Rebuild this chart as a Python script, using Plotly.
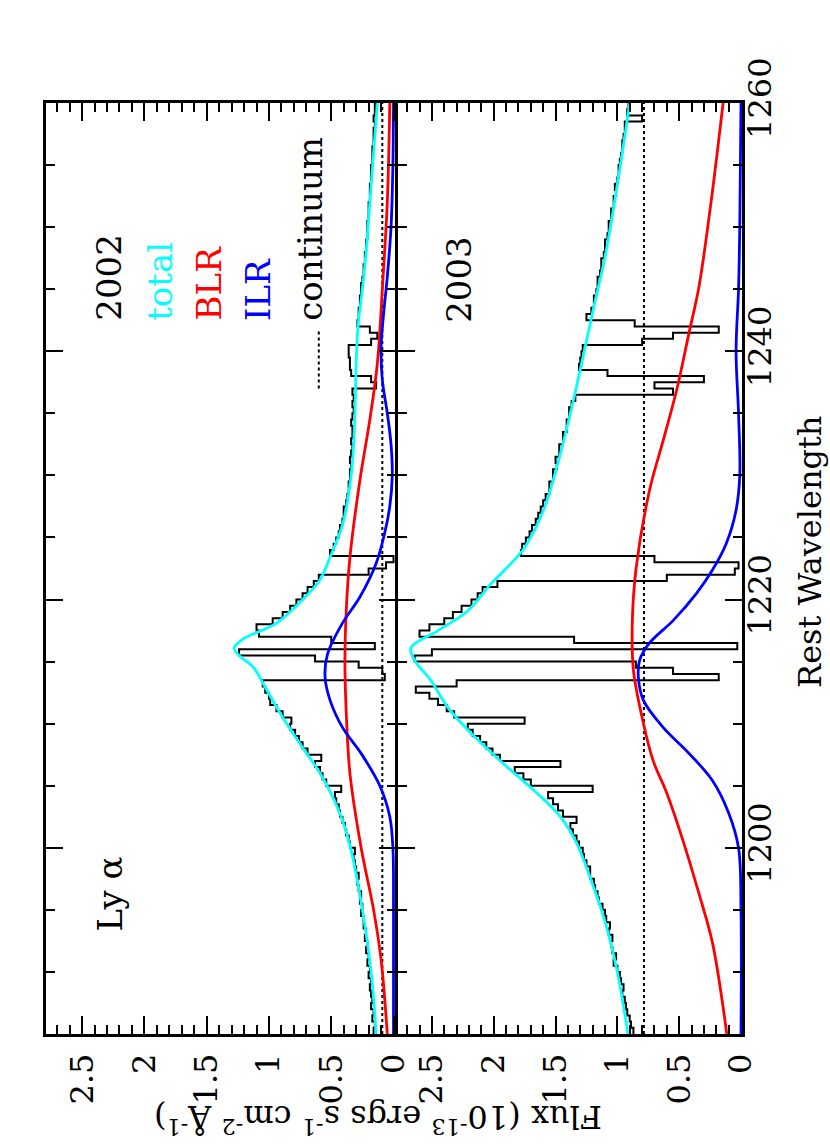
import numpy as np
import plotly.graph_objects as go

# rest wavelength bins (left edges, 0.5 A) for the observed spectra
wl_bins = np.arange(1185.0, 1260.0, 0.5)

# 2002 observed flux (1e-13 ergs/s/cm2/A), one value per bin
flux_2002 = [
    0.16, 0.15, 0.17, 0.16, 0.18, 0.17, 0.18, 0.19, 0.18, 0.20,
    0.19, 0.21, 0.20, 0.22, 0.21, 0.23, 0.22, 0.24, 0.24, 0.26,
    0.25, 0.27, 0.26, 0.28, 0.29, 0.28, 0.30, 0.31, 0.32, 0.31,
    0.35, 0.36, 0.38, 0.39, 0.41, 0.43, 0.44, 0.46, 0.47, 0.42,
    0.54, 0.57, 0.59, 0.63, 0.58, 0.69, 0.73, 0.76, 0.79, 0.83,
    0.82, 0.89, 0.94, 0.99, 1.00, 1.03, 1.05, 0.07, 0.09, 0.28,
    0.63, 1.24, 0.15, 0.50, 1.08, 1.10, 0.97, 0.89, 0.83, 0.78,
    0.73, 0.69, 0.64, 0.60, 0.20, 0.06, 0.00, 0.51, 0.48, 0.46,
    0.44, 0.43, 0.41, 0.40, 0.40, 0.38, 0.37, 0.36, 0.36, 0.35,
    0.35, 0.34, 0.35, 0.34, 0.33, 0.34, 0.33, 0.33, 0.34, 0.33,
    0.32, 0.33, 0.32, 0.33, 0.14, 0.18, 0.34, 0.35, 0.35, 0.36,
    0.36, 0.18, 0.13, 0.19, 0.29, 0.28, 0.28, 0.27, 0.27, 0.26,
    0.26, 0.25, 0.24, 0.24, 0.23, 0.23, 0.22, 0.22, 0.21, 0.21,
    0.21, 0.20, 0.20, 0.20, 0.19, 0.19, 0.19, 0.18, 0.18, 0.18,
    0.17, 0.17, 0.17, 0.16, 0.16, 0.16, 0.15, 0.16, 0.15, 0.15,
]

# 2003 observed flux
flux_2003 = [
    0.87, 0.89, 0.90, 0.92, 0.93, 0.94, 0.96, 0.95, 0.97, 0.98,
    1.00, 1.03, 1.01, 1.04, 1.05, 1.04, 1.07, 1.06, 1.09, 1.10,
    1.12, 1.15, 1.16, 1.18, 1.19, 1.22, 1.22, 1.25, 1.27, 1.28,
    1.31, 1.33, 1.36, 1.38, 1.33, 1.44, 1.48, 1.52, 1.56, 1.20,
    1.70, 1.76, 1.83, 1.46, 1.95, 2.01, 2.06, 2.11, 2.17, 2.21,
    1.75, 2.32, 2.38, 2.45, 2.52, 2.63, 2.30, 0.18, 0.55, 0.85,
    2.64, 2.50, 0.03, 1.35, 2.60, 2.52, 2.40, 2.33, 2.26, 2.18,
    2.13, 2.09, 1.97, 0.60, 0.05, 0.02, 0.70, 1.78, 1.77, 1.74,
    1.71, 1.69, 1.66, 1.64, 1.62, 1.60, 1.58, 1.55, 1.55, 1.52,
    1.52, 1.49, 1.50, 1.47, 1.47, 1.44, 1.44, 1.41, 1.41, 1.39,
    1.39, 1.37, 1.34, 0.55, 0.70, 0.30, 1.08, 1.31, 1.30, 1.29,
    1.28, 0.80, 0.55, 0.18, 0.86, 1.25, 1.21, 1.19, 1.19, 1.17,
    1.16, 1.16, 1.14, 1.13, 1.13, 1.11, 1.10, 1.10, 1.08, 1.07,
    1.07, 1.05, 1.05, 1.03, 1.03, 1.01, 1.02, 1.00, 0.99, 0.99,
    0.98, 0.97, 0.96, 0.96, 0.95, 0.94, 0.94, 0.80, 0.92, 0.91,
]

# model components, 2002
wl_tot02 = [1185, 1190, 1195, 1200, 1203, 1206, 1208.5, 1211, 1213.3, 1214.6, 1215.4,
            1216.1, 1216.8, 1218.1, 1220, 1221.6, 1223.4, 1226, 1228.5, 1231, 1235,
            1239, 1242, 1245, 1248, 1252, 1256, 1260]
tot02 = [0.14, 0.18, 0.25, 0.345, 0.44, 0.59, 0.76, 0.92, 1.05, 1.13, 1.23,
         1.28, 1.21, 0.94, 0.73, 0.59, 0.51, 0.41, 0.36, 0.33, 0.31,
         0.30, 0.285, 0.25, 0.22, 0.19, 0.16, 0.13]

wl_blr02 = [1185, 1191, 1195, 1200, 1206, 1211, 1215, 1219, 1223.4, 1229.6, 1234.5,
            1239, 1245, 1252, 1260]
blr02 = [0.05, 0.10, 0.16, 0.26, 0.35, 0.38, 0.39, 0.38, 0.35, 0.27, 0.19,
         0.13, 0.09, 0.05, 0.03]

wl_ilr02 = [1185, 1195, 1200, 1202.5, 1205, 1207.6, 1209.7, 1211.9, 1213.8, 1215.6,
            1218.1, 1220.2, 1222.9, 1225.4, 1227.5, 1230, 1232.5, 1235, 1237.7,
            1240.3, 1243, 1246, 1250, 1255, 1260]
ilr02 = [0, 0, 0.005, 0.03, 0.11, 0.26, 0.41, 0.51, 0.55, 0.53,
         0.41, 0.27, 0.14, 0.07, 0.03, 0.01, 0.02, 0.05, 0.09,
         0.10, 0.08, 0.05, 0.02, 0.005, 0]

cont02 = 0.09

# model components, 2003
wl_tot03 = [1185, 1190, 1194.4, 1197.6, 1200.4, 1202.5, 1204.4, 1206.5, 1208.9, 1211.3,
            1213.5, 1215.1, 1216.1, 1217.5, 1219.1, 1221.3, 1222.8, 1224.2, 1227.4,
            1231.8, 1236.3, 1239.9, 1243.6, 1247.6, 1252.2, 1256, 1260]
tot03 = [0.915, 1.0, 1.11, 1.22, 1.33, 1.46, 1.65, 1.89, 2.15, 2.37,
         2.51, 2.64, 2.67, 2.45, 2.21, 2.02, 1.87, 1.75, 1.59,
         1.46, 1.35, 1.27, 1.19, 1.10, 1.02, 0.96, 0.90]

wl_blr03 = [1185, 1192.3, 1196.3, 1200.6, 1204.4, 1207, 1210.5, 1214.3, 1217.8, 1222.4,
            1228.8, 1232.8, 1236.9, 1241.5, 1245.2, 1252.2, 1260]
blr03 = [0.115, 0.23, 0.34, 0.47, 0.60, 0.71, 0.80, 0.87, 0.88, 0.85,
         0.74, 0.63, 0.52, 0.42, 0.34, 0.24, 0.145]

wl_ilr03 = [1185, 1195, 1200, 1202.8, 1205.4, 1207.6, 1209.7, 1211.9, 1213.7, 1215.1,
            1216.5, 1218.3, 1220.5, 1222.4, 1224.5, 1227.2, 1230, 1235, 1240, 1245,
            1250, 1260]
ilr03 = [0, 0, 0.02, 0.10, 0.23, 0.42, 0.63, 0.79, 0.83, 0.82,
         0.74, 0.55, 0.36, 0.23, 0.12, 0.04, 0.01, 0.02, 0.04, 0.02,
         0.01, 0]

cont03 = 0.785

wl_edges = list(wl_bins) + [1260.0]

fig = go.Figure()

panels = [
    ('x', 'y', flux_2002, wl_tot02, tot02, wl_blr02, blr02, wl_ilr02, ilr02, cont02),
    ('x2', 'y2', flux_2003, wl_tot03, tot03, wl_blr03, blr03, wl_ilr03, ilr03, cont03),
]

for xa, ya, obs, wt, tt, wb, bb, wi, ii, cc in panels:
    fig.add_trace(go.Scatter(x=list(obs) + [obs[-1]], y=wl_edges, mode='lines',
                             line=dict(color='black', width=2, shape='vh'),
                             xaxis=xa, yaxis=ya))
    fig.add_trace(go.Scatter(x=[cc, cc], y=[1185, 1260], mode='lines',
                             line=dict(color='black', width=2, dash='dot'),
                             xaxis=xa, yaxis=ya))
    fig.add_trace(go.Scatter(x=bb, y=wb, mode='lines',
                             line=dict(color='#ff0000', width=2.8, shape='spline'),
                             xaxis=xa, yaxis=ya))
    fig.add_trace(go.Scatter(x=ii, y=wi, mode='lines',
                             line=dict(color='#0000ff', width=2.8, shape='spline'),
                             xaxis=xa, yaxis=ya))
    fig.add_trace(go.Scatter(x=tt, y=wt, mode='lines',
                             line=dict(color='#00ffff', width=2.8, shape='spline'),
                             xaxis=xa, yaxis=ya))

flux_ticks = [0, 0.5, 1, 1.5, 2, 2.5]
flux_labels = ['0', '0.5', '1', '1.5', '2', '2.5']

xcommon = dict(
    tickvals=flux_ticks,
    ticktext=flux_labels,
    tickangle=-90,
    ticks='inside',
    ticklen=18,
    tickwidth=2,
    tickcolor='black',
    showline=True,
    linewidth=2.5,
    linecolor='black',
    mirror='ticks',
    showgrid=False,
    zeroline=False,
    ticklabelstandoff=4,
    minor=dict(dtick=0.1, tick0=0, ticks='inside', ticklen=9, tickwidth=2,
               tickcolor='black', showgrid=False),
)

ycommon = dict(
    range=[1185, 1260],
    tick0=1200,
    dtick=20,
    ticks='inside',
    ticklen=17,
    tickwidth=2,
    tickcolor='black',
    showgrid=False,
    zeroline=False,
    showline=True,
    linewidth=2.5,
    linecolor='black',
    mirror='ticks',
    minor=dict(dtick=5, tick0=1200, ticks='inside', ticklen=9, tickwidth=2,
               tickcolor='black', showgrid=False),
)

fig.update_layout(
    width=830,
    height=1144,
    margin=dict(l=46, r=88, t=103, b=110),
    paper_bgcolor='white',
    plot_bgcolor='white',
    showlegend=False,
    font=dict(family='DejaVu Serif', size=32, color='black'),
    xaxis=dict(domain=[0, 0.502], anchor='y', range=[2.79, -0.015], **xcommon),
    xaxis2=dict(domain=[0.5056, 1], anchor='y2', range=[2.775, -0.008], **xcommon),
    yaxis=dict(domain=[0, 1], anchor='x', showticklabels=False, **ycommon),
    yaxis2=dict(domain=[0, 1], anchor='x2', matches='y', side='right',
                showticklabels=True, tickangle=-90, ticklabelstandoff=-12, **ycommon),
)

# key sample for the continuum
fig.add_shape(type='line', xref='x', yref='y', x0=0.60, x1=0.60, y0=1237.0, y1=1241.7,
              line=dict(color='black', width=2, dash='dot'))

labels = [
    ('x', 'y', 2.28, 1242.3, '2002', 'black'),
    ('x', 'y', 1.87, 1242.3, 'total', '#00ffff'),
    ('x', 'y', 1.48, 1242.3, 'BLR', '#ff0000'),
    ('x', 'y', 1.09, 1242.3, 'ILR', '#0000ff'),
    ('x', 'y', 0.67, 1242.3, 'continuum', 'black'),
    ('x2', 'y2', 2.28, 1242.1, '2003', 'black'),
    ('x', 'y', 2.28, 1193.1, 'Ly α', 'black'),
]
for xr, yr, xv, yv, txt, col in labels:
    fig.add_annotation(xref=xr, yref=yr, x=xv, y=yv, text=txt, showarrow=False,
                       textangle=-90, xanchor='center', yanchor='bottom',
                       font=dict(size=34, color=col))

fig.add_annotation(xref='paper', yref='paper', x=1.098, y=0.518, text='Rest Wavelength',
                   showarrow=False, textangle=-90, xanchor='center', yanchor='middle',
                   font=dict(size=32))
fig.add_annotation(xref='paper', yref='paper', x=0.477, y=-0.092,
                   text='Flux (10<sup>-13</sup> ergs s<sup>-1</sup> cm<sup>-2</sup> Å<sup>-1</sup>)',
                   showarrow=False, textangle=180, xanchor='center', yanchor='middle',
                   font=dict(size=32))

fig.write_html("out.html", config={'displayModeBar': False},
               post_script="document.body.style.margin='0px';")
